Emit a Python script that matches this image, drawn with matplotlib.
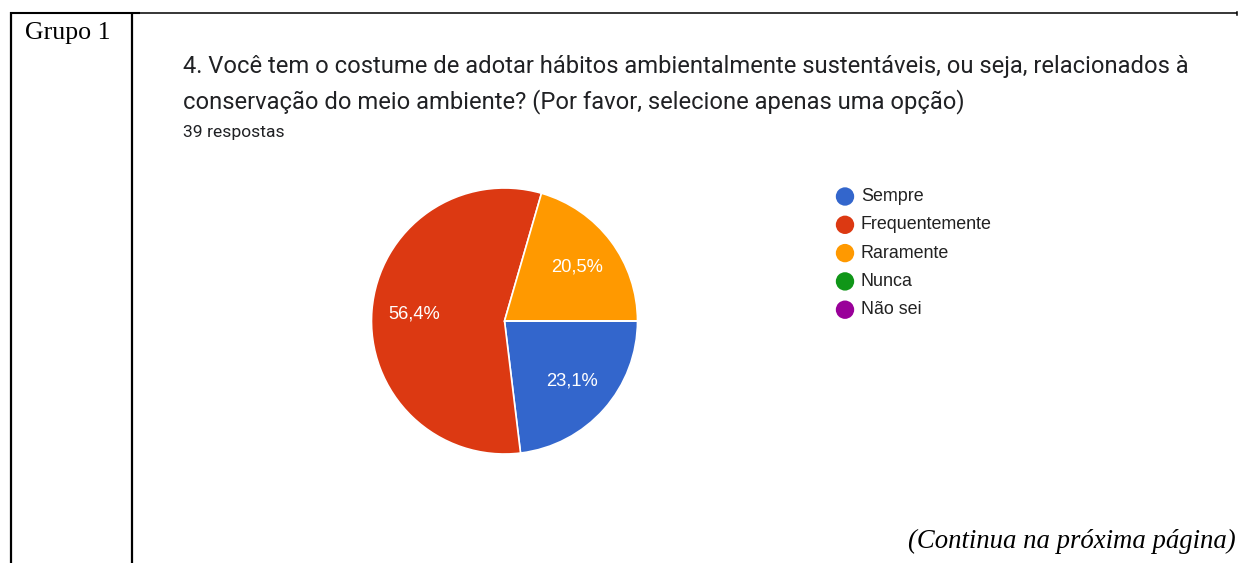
import matplotlib
matplotlib.use("Agg")
import matplotlib.pyplot as plt

W, H = 1238, 563

# --- data
categories = ["Sempre", "Frequentemente", "Raramente", "Nunca", "Não sei"]
counts = [9, 22, 8, 0, 0]
colors = ["#3366cc", "#dc3912", "#ff9900", "#109618", "#990099"]
n_resp = sum(counts)
question = ["4. Você tem o costume de adotar hábitos ambientalmente sustentáveis, ou seja, relacionados à",
            "conservação do meio ambiente? (Por favor, selecione apenas uma opção)"]

fig = plt.figure(figsize=(W / 100, H / 100), dpi=100)
fig.patch.set_facecolor("white")

# page layer in pixel coordinates (y down)
bg = fig.add_axes([0, 0, 1, 1])
bg.set_xlim(0, W)
bg.set_ylim(H, 0)
bg.axis("off")

# table borders
bg.plot([10, 140], [12.5, 12.5], color="black", lw=1.5, solid_capstyle="butt")
bg.plot([140, W - 1], [12.5, 12.5], color="black", lw=1.1, solid_capstyle="butt")
bg.plot([11, 11], [12, H], color="black", lw=1.6, solid_capstyle="butt")
bg.plot([132, 132], [12, H], color="black", lw=1.6, solid_capstyle="butt")
bg.plot([W - 1.5, W - 1.5], [12, 15], color="black", lw=1.1)

bg.text(25, 39, "Grupo 1", family="Liberation Serif", fontsize=18.6,
        color="black", va="baseline", ha="left")
bg.text(1236, 548, "(Continua na próxima página)", family="Liberation Serif",
        style="italic", fontsize=19.3, color="black", va="baseline", ha="right")

# question header
bg.text(183, 73.5, question[0], family="Roboto", fontsize=17.1, color="#202124", va="baseline")
bg.text(183, 108, question[1], family="Roboto", fontsize=17.1, color="#202124", va="baseline")
bg.text(183, 137, f"{n_resp} respostas", family="Roboto", fontsize=12.6, color="#202124", va="baseline")

# pie, centred at (504, 321) with radius 133 px
cx, cy, r = 504.5, 321, 133
pie_ax = fig.add_axes([(cx - r) / W, (H - cy - r) / H, 2 * r / W, 2 * r / H])
wedges, _, autotexts = pie_ax.pie(
    counts, colors=colors, startangle=0, counterclock=False, radius=1,
    autopct=lambda p: f"{p:.1f}%".replace(".", ",") if p > 0 else "",
    pctdistance=0.68,
    wedgeprops=dict(edgecolor="white", linewidth=1.2),
    textprops=dict(color="white", family="Liberation Sans", fontsize=13.2),
)
pie_ax.set_xlim(-1, 1)
pie_ax.set_ylim(-1, 1)
pie_ax.set_aspect("equal")

# legend: round swatch + label per category
leg_x, leg_y0, leg_dy = 845, 196.5, 28.3
for i, (lab, c) in enumerate(zip(categories, colors)):
    y = leg_y0 + i * leg_dy
    bg.scatter([leg_x], [y], s=175, color=c, edgecolors="none")
    bg.text(leg_x + 16, y, lab, family="Liberation Sans", fontsize=12.9,
            color="#222222", va="center", ha="left")

fig.savefig("out.png", dpi=100)
